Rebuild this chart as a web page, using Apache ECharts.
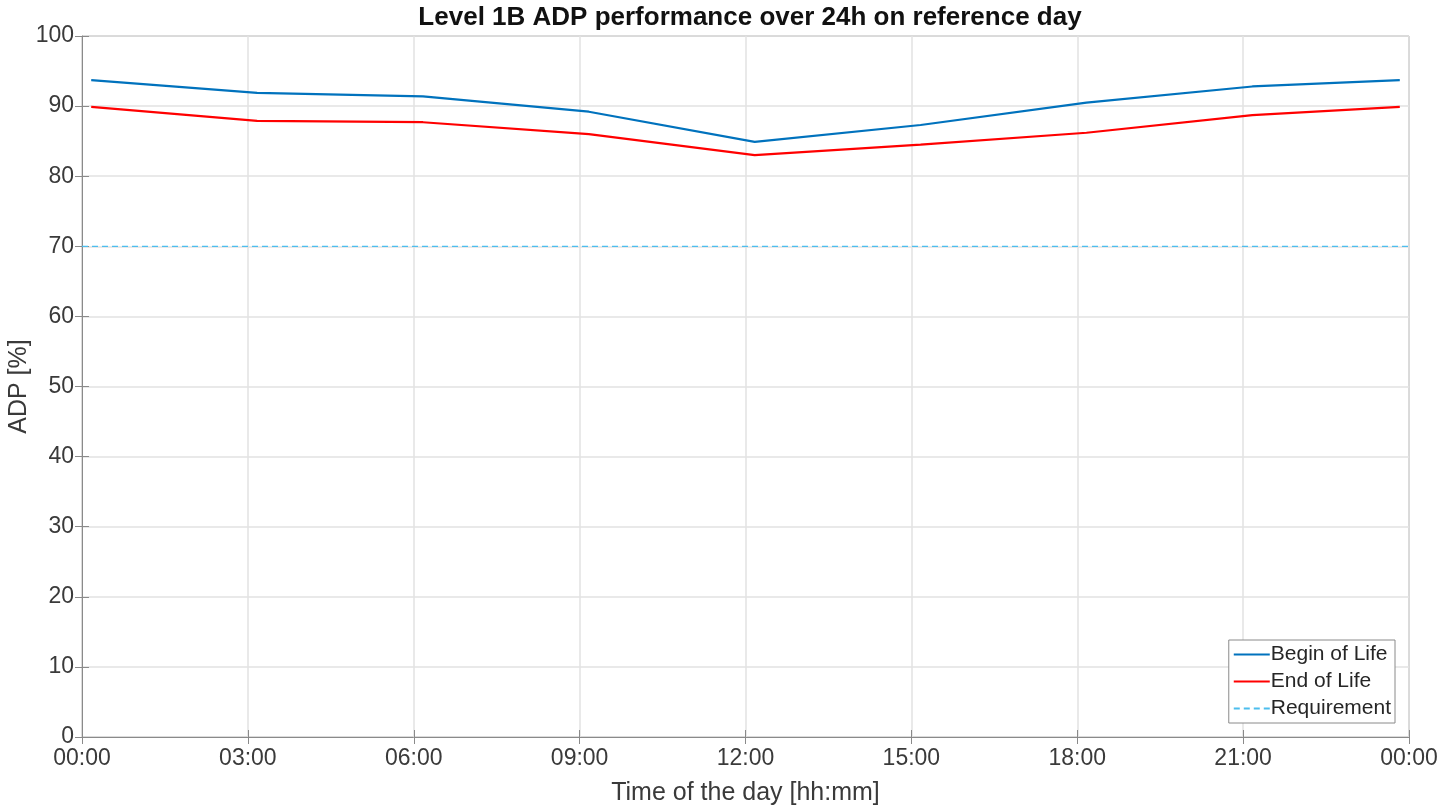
<!DOCTYPE html>
<html>
<head>
<meta charset="utf-8">
<title>Level 1B ADP performance</title>
<script src="https://cdn.jsdelivr.net/npm/echarts@6/dist/echarts.min.js"></script>
<style>
html, body { margin: 0; padding: 0; background: #fff; }
#main { width: 1440px; height: 808px; }
</style>
</head>
<body>
<div id="main"></div>
<script>
// time of day in minutes
var timeMin = [10, 190, 370, 550, 730, 910, 1090, 1270, 1430];
var beginOfLife = [93.7, 91.9, 91.4, 89.2, 84.9, 87.3, 90.5, 92.8, 93.7];
var endOfLife = [89.9, 87.9, 87.7, 86.0, 83.0, 84.5, 86.2, 88.7, 89.9];
var reqTime = [0, 1440];
var reqValue = [70, 70];
var xTicks = ['00:00', '03:00', '06:00', '09:00', '12:00', '15:00', '18:00', '21:00', '00:00'];

var FONT = 'Liberation Sans, Arial, sans-serif';
var labelColor = '#3a3a3a';

function pairs(xs, ys) {
	var out = [];
	for (var i = 0; i < xs.length; i++) out.push([xs[i], ys[i]]);
	return out;
}

var chart = echarts.init(document.getElementById('main'));
var option = {
	backgroundColor: '#fff',
	animation: false,
	title: {
		text: 'Level 1B ADP performance over 24h on reference day',
		left: 745, top: 0, textAlign: 'center',
		textStyle: { fontFamily: FONT, fontSize: 26, fontWeight: 'bold', color: '#111' }
	},
	grid: {
		left: 82, right: 31, top: 36, bottom: 71,
		outerBoundsMode: 'none', containLabel: false,
		show: true, borderColor: '#8a8a8a', borderWidth: 1
	},
	legend: {
		orient: 'vertical',
		right: 45, bottom: 85,
		backgroundColor: '#fff',
		borderColor: '#8a8a8a', borderWidth: 1, borderRadius: 0,
		padding: [4, 4, 4, 4],
		itemGap: 6, itemWidth: 36, itemHeight: 22,
		itemStyle: { opacity: 0 },
		textStyle: { fontFamily: FONT, fontSize: 21, color: '#262626', padding: [0, 0, 0, -4] },
		data: ['Begin of Life', 'End of Life', 'Requirement']
	},
	xAxis: [{
		type: 'value', min: 0, max: 1440, interval: 180,
		name: 'Time of the day [hh:mm]', nameLocation: 'middle', nameGap: 44,
		nameMoveOverlap: false,
		nameTextStyle: { fontFamily: FONT, fontSize: 25, color: labelColor },
		axisLine: { show: true, lineStyle: { color: '#8a8a8a' } },
		axisTick: { show: true, inside: true, length: 7, lineStyle: { color: '#8a8a8a' } },
		axisLabel: {
			fontFamily: FONT, fontSize: 23, color: labelColor, margin: 10,
			formatter: function (v) { return xTicks[Math.round(v / 180)]; }
		},
		splitLine: { show: true, lineStyle: { color: '#e2e2e2', width: 1.5 } }
	}, {
		type: 'value', min: 0, max: 1440, interval: 180, position: 'top',
		axisLine: { show: false },
		axisTick: { show: true, inside: true, length: 7, lineStyle: { color: '#8a8a8a' } },
		axisLabel: { show: false }, splitLine: { show: false }
	}],
	yAxis: [{
		type: 'value', min: 0, max: 100, interval: 10,
		name: 'ADP [%]', nameLocation: 'middle', nameGap: 50,
		nameMoveOverlap: false,
		nameTextStyle: { fontFamily: FONT, fontSize: 25, color: labelColor },
		axisLine: { show: true, lineStyle: { color: '#8a8a8a' } },
		axisTick: { show: true, inside: true, length: 7, lineStyle: { color: '#8a8a8a' } },
		axisLabel: { fontFamily: FONT, fontSize: 23, color: labelColor, margin: 8 },
		splitLine: { show: true, lineStyle: { color: '#e2e2e2', width: 1.5 } }
	}, {
		type: 'value', min: 0, max: 100, interval: 10, position: 'right',
		axisLine: { show: false },
		axisTick: { show: true, inside: true, length: 7, lineStyle: { color: '#8a8a8a' } },
		axisLabel: { show: false }, splitLine: { show: false }
	}],
	series: [
		{
			name: 'Begin of Life', type: 'line', symbol: 'none',
			data: pairs(timeMin, beginOfLife),
			lineStyle: { color: '#0072BD', width: 2.2 }, itemStyle: { color: '#0072BD' }, z: 5
		},
		{
			name: 'End of Life', type: 'line', symbol: 'none',
			data: pairs(timeMin, endOfLife),
			lineStyle: { color: '#FF0000', width: 2.2 }, itemStyle: { color: '#FF0000' }, z: 4
		},
		{
			name: 'Requirement', type: 'line', symbol: 'none',
			data: pairs(reqTime, reqValue),
			lineStyle: { color: '#4DBEEE', width: 1.2, type: [6, 4] }, itemStyle: { color: '#4DBEEE' }, z: 3
		}
	]
};
chart.setOption(option);
</script>
</body>
</html>
